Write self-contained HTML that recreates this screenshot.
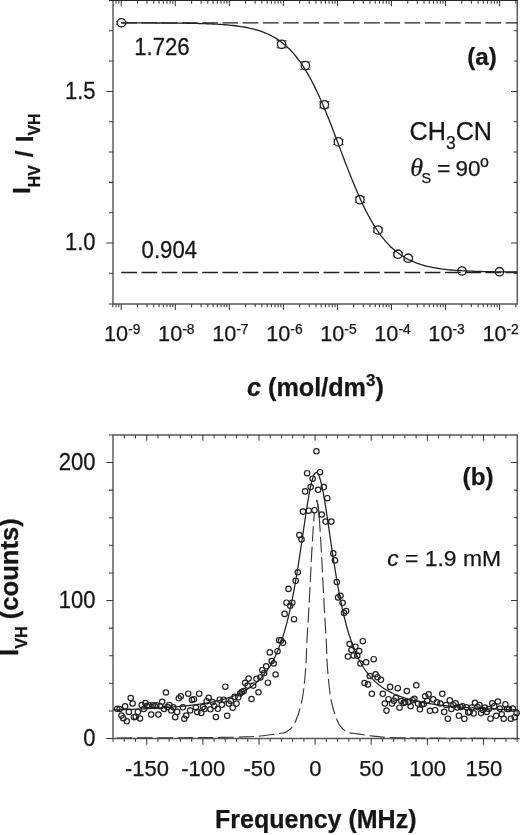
<!DOCTYPE html>
<html lang="en"><head><meta charset="utf-8"><title>Figure</title>
<style>
html,body{margin:0;padding:0;background:#fff;}
svg{display:block;}
#fig{filter:blur(0.4px);}
</style></head>
<body>
<svg width="520" height="835" viewBox="0 0 520 835">
<rect width="520" height="835" fill="#fff"/>
<g id="fig">
<g stroke="#5a5a5a" stroke-width="1.45" fill="none">
<path d="M113.0 0.00V304.60M113.0 303.9H518.00M517.3 304.60V0.00"/>
<path d="M109.0 0.45H518.0" stroke="#262626" stroke-width="1.3"/>
</g>
<g stroke="#3a3a3a" stroke-width="1.05" fill="none">
<path d="M113.0 303.9h-4M113.0 273.32h-4M517.3 273.32h-3.4M113.0 243.00h-6.7M517.3 243.00h-6.3M113.0 212.68h-4M517.3 212.68h-3.4M113.0 182.36h-4M517.3 182.36h-3.4M113.0 152.04h-4M517.3 152.04h-3.4M113.0 121.72h-4M517.3 121.72h-3.4M113.0 91.40h-6.7M517.3 91.40h-6.3M113.0 61.08h-4M517.3 61.08h-3.4M113.0 30.76h-4M517.3 30.76h-3.4"/>
<path d="M112.88 303.9v3.3M116.01 303.9v3.3M116.01 0.7v3M118.78 303.9v3.3M118.78 0.7v3M121.25 303.9v6M121.25 0.7v5.6M137.52 303.9v3.3M137.52 0.7v3M147.04 303.9v3.3M147.04 0.7v3M153.79 303.9v3.3M153.79 0.7v3M159.03 303.9v3.3M159.03 0.7v3M163.31 303.9v3.3M163.31 0.7v3M166.93 303.9v3.3M166.93 0.7v3M170.06 303.9v3.3M170.06 0.7v3M172.83 303.9v3.3M172.83 0.7v3M175.30 303.9v6M175.30 0.7v5.6M191.57 303.9v3.3M191.57 0.7v3M201.09 303.9v3.3M201.09 0.7v3M207.84 303.9v3.3M207.84 0.7v3M213.08 303.9v3.3M213.08 0.7v3M217.36 303.9v3.3M217.36 0.7v3M220.98 303.9v3.3M220.98 0.7v3M224.11 303.9v3.3M224.11 0.7v3M226.88 303.9v3.3M226.88 0.7v3M229.35 303.9v6M229.35 0.7v5.6M245.62 303.9v3.3M245.62 0.7v3M255.14 303.9v3.3M255.14 0.7v3M261.89 303.9v3.3M261.89 0.7v3M267.13 303.9v3.3M267.13 0.7v3M271.41 303.9v3.3M271.41 0.7v3M275.03 303.9v3.3M275.03 0.7v3M278.16 303.9v3.3M278.16 0.7v3M280.93 303.9v3.3M280.93 0.7v3M283.40 303.9v6M283.40 0.7v5.6M299.67 303.9v3.3M299.67 0.7v3M309.19 303.9v3.3M309.19 0.7v3M315.94 303.9v3.3M315.94 0.7v3M321.18 303.9v3.3M321.18 0.7v3M325.46 303.9v3.3M325.46 0.7v3M329.08 303.9v3.3M329.08 0.7v3M332.21 303.9v3.3M332.21 0.7v3M334.98 303.9v3.3M334.98 0.7v3M337.45 303.9v6M337.45 0.7v5.6M353.72 303.9v3.3M353.72 0.7v3M363.24 303.9v3.3M363.24 0.7v3M369.99 303.9v3.3M369.99 0.7v3M375.23 303.9v3.3M375.23 0.7v3M379.51 303.9v3.3M379.51 0.7v3M383.13 303.9v3.3M383.13 0.7v3M386.26 303.9v3.3M386.26 0.7v3M389.03 303.9v3.3M389.03 0.7v3M391.50 303.9v6M391.50 0.7v5.6M407.77 303.9v3.3M407.77 0.7v3M417.29 303.9v3.3M417.29 0.7v3M424.04 303.9v3.3M424.04 0.7v3M429.28 303.9v3.3M429.28 0.7v3M433.56 303.9v3.3M433.56 0.7v3M437.18 303.9v3.3M437.18 0.7v3M440.31 303.9v3.3M440.31 0.7v3M443.08 303.9v3.3M443.08 0.7v3M445.55 303.9v6M445.55 0.7v5.6M461.82 303.9v3.3M461.82 0.7v3M471.34 303.9v3.3M471.34 0.7v3M478.09 303.9v3.3M478.09 0.7v3M483.33 303.9v3.3M483.33 0.7v3M487.61 303.9v3.3M487.61 0.7v3M491.23 303.9v3.3M491.23 0.7v3M494.36 303.9v3.3M494.36 0.7v3M497.13 303.9v3.3M497.13 0.7v3M499.60 303.9v6M499.60 0.7v5.6M515.87 303.9v3.3M515.87 0.7v3"/>
</g>
<g stroke="#222" stroke-width="1.3" fill="none">
<path d="M116.30 21.40h10.2M116.30 24.20h10.2" stroke-width="0.95"/>
<circle cx="121.4" cy="22.8" r="4.2" fill="#fff"/>
<path d="M276.50 40.80h10.2M276.50 47.80h10.2" stroke-width="0.95"/>
<circle cx="281.6" cy="44.3" r="4.2" fill="#fff"/>
<path d="M300.30 61.90h10.2M300.30 69.30h10.2" stroke-width="0.95"/>
<circle cx="305.4" cy="65.6" r="4.2" fill="#fff"/>
<path d="M319.25 101.80h10.2M319.25 107.80h10.2" stroke-width="0.95"/>
<circle cx="324.35" cy="104.8" r="4.2" fill="#fff"/>
<path d="M333.30 139.30h10.2M333.30 144.50h10.2" stroke-width="0.95"/>
<circle cx="338.4" cy="141.9" r="4.2" fill="#fff"/>
<path d="M354.80 197.00h10.2M354.80 202.40h10.2" stroke-width="0.95"/>
<circle cx="359.9" cy="199.7" r="4.2" fill="#fff"/>
<path d="M372.90 227.90h10.2M372.90 232.10h10.2" stroke-width="0.95"/>
<circle cx="378" cy="230" r="4.2" fill="#fff"/>
<path d="M392.90 252.40h10.2M392.90 256.00h10.2" stroke-width="0.95"/>
<circle cx="398.0" cy="254.2" r="4.2" fill="#fff"/>
<path d="M403.10 256.40h10.2M403.10 260.00h10.2" stroke-width="0.95"/>
<circle cx="408.2" cy="258.2" r="4.2" fill="#fff"/>
<circle cx="462" cy="271.0" r="4.2" fill="#fff"/>
<circle cx="499.5" cy="271.7" r="4.2" fill="#fff"/>
</g>
<g stroke="#222" stroke-width="1.35" fill="none">
<path d="M121.25 22.88H517.3" stroke-dasharray="15.75 4.48"/>
<path d="M121.25 272.46H517.3" stroke-dasharray="15.75 4.48"/>
<path d="M121.2 22.90 L123.2 22.90 L125.2 22.90 L127.2 22.91 L129.2 22.91 L131.2 22.91 L133.2 22.91 L135.2 22.92 L137.2 22.92 L139.2 22.93 L141.2 22.93 L143.2 22.93 L145.2 22.94 L147.2 22.95 L149.2 22.95 L151.2 22.96 L153.2 22.97 L155.2 22.97 L157.2 22.98 L159.2 22.99 L161.2 23.00 L163.2 23.01 L165.2 23.02 L167.2 23.04 L169.2 23.05 L171.2 23.07 L173.2 23.08 L175.2 23.10 L177.2 23.12 L179.2 23.14 L181.2 23.17 L183.2 23.19 L185.2 23.22 L187.2 23.25 L189.2 23.29 L191.2 23.32 L193.2 23.36 L195.2 23.41 L197.2 23.45 L199.2 23.50 L201.2 23.56 L203.2 23.62 L205.2 23.69 L207.2 23.76 L209.2 23.84 L211.2 23.92 L213.2 24.01 L215.2 24.11 L217.2 24.22 L219.2 24.34 L221.2 24.47 L223.2 24.61 L225.2 24.77 L227.2 24.93 L229.2 25.11 L231.2 25.31 L233.2 25.52 L235.2 25.76 L237.2 26.01 L239.2 26.28 L241.2 26.58 L243.2 26.91 L245.2 27.26 L247.2 27.64 L249.2 28.06 L251.2 28.51 L253.2 28.99 L255.2 29.52 L257.2 30.10 L259.2 30.72 L261.2 31.39 L263.2 32.12 L265.2 32.91 L267.2 33.77 L269.2 34.69 L271.2 35.69 L273.2 36.76 L275.2 37.92 L277.2 39.17 L279.2 40.52 L281.2 41.97 L283.2 43.52 L285.2 45.20 L287.2 46.99 L289.2 48.91 L291.2 50.96 L293.2 53.16 L295.2 55.50 L297.2 57.99 L299.2 60.64 L301.2 63.45 L303.2 66.43 L305.2 69.58 L307.2 72.90 L309.2 76.39 L311.2 80.06 L313.2 83.90 L315.2 87.91 L317.2 92.09 L319.2 96.43 L321.2 100.92 L323.2 105.56 L325.2 110.33 L327.2 115.23 L329.2 120.24 L331.2 125.33 L333.2 130.51 L335.2 135.75 L337.2 141.03 L339.2 146.33 L341.2 151.64 L343.2 156.93 L345.2 162.19 L347.2 167.39 L349.2 172.53 L351.2 177.58 L353.2 182.52 L355.2 187.35 L357.2 192.05 L359.2 196.61 L361.2 201.02 L363.2 205.26 L365.2 209.35 L367.2 213.26 L369.2 217.01 L371.2 220.58 L373.2 223.97 L375.2 227.20 L377.2 230.25 L379.2 233.13 L381.2 235.85 L383.2 238.41 L385.2 240.82 L387.2 243.08 L389.2 245.19 L391.2 247.17 L393.2 249.02 L395.2 250.74 L397.2 252.35 L399.2 253.84 L401.2 255.24 L403.2 256.53 L405.2 257.73 L407.2 258.84 L409.2 259.87 L411.2 260.82 L413.2 261.71 L415.2 262.52 L417.2 263.28 L419.2 263.98 L421.2 264.62 L423.2 265.21 L425.2 265.76 L427.2 266.27 L429.2 266.74 L431.2 267.17 L433.2 267.56 L435.2 267.93 L437.2 268.26 L439.2 268.57 L441.2 268.86 L443.2 269.12 L445.2 269.36 L447.2 269.58 L449.2 269.79 L451.2 269.98 L453.2 270.15 L455.2 270.31 L457.2 270.45 L459.2 270.59 L461.2 270.71 L463.2 270.82 L465.2 270.93 L467.2 271.02 L469.2 271.11 L471.2 271.19 L473.2 271.27 L475.2 271.34 L477.2 271.40 L479.2 271.46 L481.2 271.51 L483.2 271.56 L485.2 271.60 L487.2 271.64 L489.2 271.68 L491.2 271.72 L493.2 271.75 L495.2 271.78 L497.2 271.80 L499.2 271.83 L501.2 271.85 L503.2 271.87 L505.2 271.89 L507.2 271.91 L509.2 271.93 L511.2 271.94 L513.2 271.95 L515.2 271.97 L517.2 271.98" stroke-width="1.3"/>
</g>
<g fill="#151515" stroke="#151515" stroke-width="0.25" font-family='"Liberation Sans", Arial, sans-serif' font-size="22">
<text transform="translate(95.5 98.8) scale(1 1.07)" text-anchor="end">1.5</text>
<text transform="translate(95.5 250.4) scale(1 1.07)" text-anchor="end">1.0</text>
<text transform="translate(122.25 340.7)" font-size="21.7" text-anchor="middle">10<tspan font-size="13.8" dy="-6.3">-9</tspan></text>
<text transform="translate(176.30 340.7)" font-size="21.7" text-anchor="middle">10<tspan font-size="13.8" dy="-6.3">-8</tspan></text>
<text transform="translate(230.35 340.7)" font-size="21.7" text-anchor="middle">10<tspan font-size="13.8" dy="-6.3">-7</tspan></text>
<text transform="translate(284.40 340.7)" font-size="21.7" text-anchor="middle">10<tspan font-size="13.8" dy="-6.3">-6</tspan></text>
<text transform="translate(338.45 340.7)" font-size="21.7" text-anchor="middle">10<tspan font-size="13.8" dy="-6.3">-5</tspan></text>
<text transform="translate(392.50 340.7)" font-size="21.7" text-anchor="middle">10<tspan font-size="13.8" dy="-6.3">-4</tspan></text>
<text transform="translate(446.55 340.7)" font-size="21.7" text-anchor="middle">10<tspan font-size="13.8" dy="-6.3">-3</tspan></text>
<text transform="translate(500.60 340.7)" font-size="21.7" text-anchor="middle">10<tspan font-size="13.8" dy="-6.3">-2</tspan></text>
<text transform="translate(134.2 54.8) scale(0.985 1.04)" font-size="22.5">1.726</text>
<text transform="translate(141.6 257.9) scale(0.985 1.04)" font-size="22.5">0.904</text>
<text x="467.3" y="65.2" font-size="24.2" font-weight="bold">(a)</text>
<text x="409.5" y="139.6" font-size="25.2">CH<tspan font-size="17.5" dy="9">3</tspan><tspan dy="-9">CN</tspan></text>
<text x="410.3" y="175.6" font-size="22.5"><tspan font-family="'Liberation Serif', serif" font-style="italic" font-size="26">θ</tspan><tspan x="421.6" font-size="14.5" dy="7.5">S</tspan><tspan x="437.3" dy="-7.5">=</tspan><tspan x="455.6">90</tspan><tspan x="480" font-size="16" dy="-9">o</tspan></text>
<text x="247" y="395.8" font-size="25.2" font-weight="bold"><tspan font-style="italic">c</tspan> (mol/dm<tspan font-size="17" dy="-10">3</tspan><tspan dy="10">)</tspan></text>
<text transform="translate(30 194) rotate(-90)" font-size="24.4" font-weight="bold">I<tspan font-size="15.8" dy="9.5">HV</tspan><tspan dy="-6.9" style="word-spacing:1.3px"> / I</tspan><tspan font-size="15.8" dy="6.9">VH</tspan></text>
</g>
<g stroke="#5a5a5a" stroke-width="1.45" fill="none">
<path d="M113.0 434.25V739.25M113.0 738.55H518.00M517.3 739.25V434.25M113.0 434.95H517.3"/>
</g>
<g stroke="#3a3a3a" stroke-width="1.05" fill="none">
<path d="M113.0 738.55h-6.7M113.0 434.95h-4M113.0 710.90h-4M517.3 710.90h-3.4M113.0 683.30h-4M517.3 683.30h-3.4M113.0 655.70h-4M517.3 655.70h-3.4M113.0 628.10h-4M517.3 628.10h-3.4M113.0 600.50h-6.7M517.3 600.50h-6.3M113.0 572.90h-4M517.3 572.90h-3.4M113.0 545.30h-4M517.3 545.30h-3.4M113.0 517.70h-4M517.3 517.70h-3.4M113.0 490.10h-4M517.3 490.10h-3.4M113.0 462.50h-6.7M517.3 462.50h-6.3"/>
<path d="M113.05 738.55v3.3M124.28 738.55v3.3M124.28 434.95v3.4M135.50 738.55v3.3M135.50 434.95v3.4M146.73 738.55v6.2M146.73 434.95v5.8M157.95 738.55v3.3M157.95 434.95v3.4M169.18 738.55v3.3M169.18 434.95v3.4M180.40 738.55v3.3M180.40 434.95v3.4M191.62 738.55v3.3M191.62 434.95v3.4M202.85 738.55v6.2M202.85 434.95v5.8M214.08 738.55v3.3M214.08 434.95v3.4M225.30 738.55v3.3M225.30 434.95v3.4M236.53 738.55v3.3M236.53 434.95v3.4M247.75 738.55v3.3M247.75 434.95v3.4M258.98 738.55v6.2M258.98 434.95v5.8M270.20 738.55v3.3M270.20 434.95v3.4M281.43 738.55v3.3M281.43 434.95v3.4M292.65 738.55v3.3M292.65 434.95v3.4M303.88 738.55v3.3M303.88 434.95v3.4M315.10 738.55v6.2M315.10 434.95v5.8M326.33 738.55v3.3M326.33 434.95v3.4M337.55 738.55v3.3M337.55 434.95v3.4M348.78 738.55v3.3M348.78 434.95v3.4M360.00 738.55v3.3M360.00 434.95v3.4M371.23 738.55v6.2M371.23 434.95v5.8M382.45 738.55v3.3M382.45 434.95v3.4M393.68 738.55v3.3M393.68 434.95v3.4M404.90 738.55v3.3M404.90 434.95v3.4M416.12 738.55v3.3M416.12 434.95v3.4M427.35 738.55v6.2M427.35 434.95v5.8M438.58 738.55v3.3M438.58 434.95v3.4M449.80 738.55v3.3M449.80 434.95v3.4M461.03 738.55v3.3M461.03 434.95v3.4M472.25 738.55v3.3M472.25 434.95v3.4M483.48 738.55v6.2M483.48 434.95v5.8M494.70 738.55v3.3M494.70 434.95v3.4M505.93 738.55v3.3M505.93 434.95v3.4M517.15 738.55v3.3"/>
</g>
<g stroke="#222" stroke-width="1.25" fill="none">
<path d="M113.05 709.96 L114.17 709.93 L115.30 709.90 L116.42 709.86 L117.54 709.83 L118.66 709.79 L119.79 709.76 L120.91 709.72 L122.03 709.68 L123.15 709.65 L124.28 709.61 L125.40 709.57 L126.52 709.53 L127.64 709.49 L128.77 709.45 L129.89 709.41 L131.01 709.37 L132.13 709.32 L133.26 709.28 L134.38 709.23 L135.50 709.19 L136.62 709.14 L137.75 709.09 L138.87 709.05 L139.99 709.00 L141.11 708.95 L142.24 708.90 L143.36 708.84 L144.48 708.79 L145.60 708.74 L146.73 708.68 L147.85 708.63 L148.97 708.57 L150.09 708.51 L151.22 708.45 L152.34 708.39 L153.46 708.33 L154.58 708.27 L155.71 708.20 L156.83 708.14 L157.95 708.07 L159.07 708.00 L160.20 707.93 L161.32 707.86 L162.44 707.79 L163.56 707.71 L164.69 707.64 L165.81 707.56 L166.93 707.48 L168.05 707.40 L169.18 707.31 L170.30 707.23 L171.42 707.14 L172.54 707.05 L173.67 706.96 L174.79 706.87 L175.91 706.77 L177.03 706.68 L178.16 706.58 L179.28 706.48 L180.40 706.37 L181.52 706.26 L182.65 706.15 L183.77 706.04 L184.89 705.93 L186.01 705.81 L187.14 705.69 L188.26 705.56 L189.38 705.44 L190.50 705.31 L191.62 705.17 L192.75 705.04 L193.87 704.89 L194.99 704.75 L196.12 704.60 L197.24 704.45 L198.36 704.29 L199.48 704.13 L200.61 703.97 L201.73 703.80 L202.85 703.62 L203.97 703.44 L205.10 703.26 L206.22 703.06 L207.34 702.87 L208.46 702.67 L209.59 702.46 L210.71 702.24 L211.83 702.02 L212.95 701.80 L214.08 701.56 L215.20 701.32 L216.32 701.07 L217.44 700.81 L218.56 700.55 L219.69 700.27 L220.81 699.99 L221.93 699.69 L223.06 699.39 L224.18 699.08 L225.30 698.75 L226.42 698.42 L227.55 698.07 L228.67 697.71 L229.79 697.34 L230.91 696.95 L232.04 696.56 L233.16 696.14 L234.28 695.71 L235.40 695.26 L236.53 694.80 L237.65 694.32 L238.77 693.82 L239.89 693.30 L241.02 692.76 L242.14 692.20 L243.26 691.61 L244.38 691.00 L245.51 690.36 L246.63 689.70 L247.75 689.01 L248.87 688.29 L250.00 687.54 L251.12 686.75 L252.24 685.93 L253.36 685.07 L254.49 684.17 L255.61 683.23 L256.73 682.24 L257.85 681.21 L258.98 680.12 L260.10 678.98 L261.22 677.79 L262.34 676.54 L263.47 675.22 L264.59 673.83 L265.71 672.37 L266.83 670.84 L267.96 669.22 L269.08 667.51 L270.20 665.71 L271.32 663.81 L272.45 661.80 L273.57 659.68 L274.69 657.44 L275.81 655.07 L276.94 652.57 L278.06 649.91 L279.18 647.10 L280.30 644.12 L281.43 640.97 L282.55 637.63 L283.67 634.08 L284.79 630.33 L285.92 626.35 L287.04 622.13 L288.16 617.67 L289.28 612.95 L290.41 607.95 L291.53 602.68 L292.65 597.13 L293.77 591.28 L294.90 585.14 L296.02 578.71 L297.14 572.01 L298.26 565.04 L299.39 557.83 L300.51 550.43 L301.63 542.86 L302.75 535.19 L303.88 527.50 L305.00 519.86 L306.12 512.39 L307.24 505.18 L308.37 498.38 L309.49 492.10 L310.61 486.48 L311.73 481.65 L312.86 477.73 L313.98 474.83 L315.10 473.02 L316.22 472.35 L317.35 472.85 L318.47 474.51 L319.59 477.26 L320.71 481.04 L321.84 485.75 L322.96 491.27 L324.08 497.46 L325.20 504.20 L326.33 511.36 L327.45 518.81 L328.57 526.42 L329.69 534.11 L330.81 541.79 L331.94 549.37 L333.06 556.81 L334.18 564.05 L335.31 571.05 L336.43 577.79 L337.55 584.26 L338.67 590.44 L339.80 596.33 L340.92 601.92 L342.04 607.23 L343.16 612.26 L344.29 617.02 L345.41 621.52 L346.53 625.77 L347.65 629.78 L348.78 633.57 L349.90 637.14 L351.02 640.51 L352.14 643.69 L353.27 646.70 L354.39 649.53 L355.51 652.20 L356.63 654.73 L357.75 657.12 L358.88 659.38 L360.00 661.51 L361.12 663.54 L362.25 665.45 L363.37 667.26 L364.49 668.98 L365.61 670.61 L366.74 672.16 L367.86 673.63 L368.98 675.03 L370.10 676.36 L371.23 677.62 L372.35 678.82 L373.47 679.97 L374.59 681.06 L375.72 682.10 L376.84 683.09 L377.96 684.04 L379.08 684.94 L380.21 685.81 L381.33 686.64 L382.45 687.43 L383.57 688.19 L384.70 688.91 L385.82 689.61 L386.94 690.27 L388.06 690.91 L389.19 691.53 L390.31 692.12 L391.43 692.68 L392.55 693.23 L393.68 693.75 L394.80 694.25 L395.92 694.73 L397.04 695.20 L398.17 695.65 L399.29 696.08 L400.41 696.50 L401.53 696.90 L402.66 697.29 L403.78 697.66 L404.90 698.02 L406.02 698.37 L407.15 698.71 L408.27 699.03 L409.39 699.35 L410.51 699.65 L411.64 699.95 L412.76 700.23 L413.88 700.51 L415.00 700.78 L416.12 701.03 L417.25 701.28 L418.37 701.53 L419.49 701.76 L420.62 701.99 L421.74 702.21 L422.86 702.43 L423.98 702.64 L425.11 702.84 L426.23 703.04 L427.35 703.23 L428.47 703.41 L429.60 703.60 L430.72 703.77 L431.84 703.94 L432.96 704.11 L434.09 704.27 L435.21 704.43 L436.33 704.58 L437.45 704.73 L438.58 704.87 L439.70 705.02 L440.82 705.15 L441.94 705.29 L443.07 705.42 L444.19 705.55 L445.31 705.67 L446.43 705.79 L447.56 705.91 L448.68 706.03 L449.80 706.14 L450.92 706.25 L452.05 706.36 L453.17 706.46 L454.29 706.56 L455.41 706.66 L456.54 706.76 L457.66 706.86 L458.78 706.95 L459.90 707.04 L461.03 707.13 L462.15 707.22 L463.27 707.30 L464.39 707.39 L465.52 707.47 L466.64 707.55 L467.76 707.62 L468.88 707.70 L470.00 707.78 L471.13 707.85 L472.25 707.92 L473.37 707.99 L474.50 708.06 L475.62 708.13 L476.74 708.19 L477.86 708.26 L478.99 708.32 L480.11 708.38 L481.23 708.44 L482.35 708.50 L483.48 708.56 L484.60 708.62 L485.72 708.67 L486.84 708.73 L487.97 708.78 L489.09 708.84 L490.21 708.89 L491.33 708.94 L492.46 708.99 L493.58 709.04 L494.70 709.09 L495.82 709.14 L496.95 709.18 L498.07 709.23 L499.19 709.27 L500.31 709.32 L501.44 709.36 L502.56 709.40 L503.68 709.44 L504.80 709.48 L505.93 709.53 L507.05 709.56 L508.17 709.60 L509.29 709.64 L510.42 709.68 L511.54 709.72 L512.66 709.75 L513.78 709.79 L514.90 709.82 L516.03 709.86 L517.15 709.89"/>
<path d="M316.60 499.90C316.75 500.42 317.23 501.82 317.50 503.00C317.77 504.18 317.97 505.33 318.20 507.00C318.43 508.67 318.65 510.17 318.90 513.00C319.15 515.83 319.44 520.17 319.70 524.00C319.96 527.83 320.13 530.83 320.45 536.00C320.77 541.17 321.25 548.57 321.60 555.00C321.95 561.43 322.18 567.17 322.55 574.60C322.93 582.03 323.44 592.03 323.85 599.60C324.26 607.17 324.58 612.85 325.00 620.00C325.42 627.15 326.00 635.50 326.35 642.50C326.70 649.50 326.74 655.75 327.10 662.00C327.46 668.25 328.02 674.83 328.50 680.00C328.98 685.17 329.38 688.83 330.00 693.00C330.62 697.17 331.33 701.33 332.20 705.00C333.07 708.67 334.08 711.83 335.20 715.00C336.32 718.17 337.62 721.67 338.90 724.00C340.18 726.33 341.35 727.58 342.90 729.00C344.45 730.42 345.75 731.68 348.20 732.50C350.65 733.32 353.87 733.35 357.60 733.90C361.33 734.45 365.43 735.21 370.60 735.80C375.77 736.39 381.77 737.09 388.60 737.45C395.43 737.81 404.43 737.83 411.60 737.95C418.77 738.07 424.10 738.08 431.60 738.15C439.10 738.22 447.43 738.30 456.60 738.35C465.77 738.40 476.10 738.42 486.60 738.45C497.10 738.48 514.10 738.53 519.60 738.55" stroke-dasharray="15.5 4.8" stroke-dashoffset="3.3" stroke-width="1.15" stroke="#3a3a3a"/>
<path d="M316.60 499.90C316.75 500.42 317.23 501.82 317.50 503.00C317.77 504.18 317.97 505.33 318.20 507.00C318.43 508.67 318.72 511.17 318.90 513.00C319.08 514.83 319.22 517.17 319.28 518.00" stroke-width="1.15" stroke="#3a3a3a"/>
<path d="M314.30 513.00C314.17 514.83 313.76 520.17 313.50 524.00C313.24 527.83 313.07 530.83 312.75 536.00C312.43 541.17 311.95 548.57 311.60 555.00C311.25 561.43 311.03 567.17 310.65 574.60C310.28 582.03 309.76 592.03 309.35 599.60C308.94 607.17 308.62 612.85 308.20 620.00C307.78 627.15 307.20 635.50 306.85 642.50C306.50 649.50 306.46 655.75 306.10 662.00C305.74 668.25 305.18 674.83 304.70 680.00C304.22 685.17 303.82 688.83 303.20 693.00C302.58 697.17 301.87 701.33 301.00 705.00C300.13 708.67 299.12 711.83 298.00 715.00C296.88 718.17 295.58 721.67 294.30 724.00C293.02 726.33 291.85 727.58 290.30 729.00C288.75 730.42 287.45 731.68 285.00 732.50C282.55 733.32 279.33 733.35 275.60 733.90C271.87 734.45 267.77 735.30 262.60 735.80C257.43 736.30 251.43 736.63 244.60 736.90C237.77 737.17 228.77 737.28 221.60 737.40C214.43 737.52 209.10 737.53 201.60 737.60C194.10 737.67 185.77 737.75 176.60 737.80C167.43 737.85 157.10 737.87 146.60 737.90C136.10 737.93 119.10 737.98 113.60 738.00" stroke-dasharray="15.5 4.8" stroke-dashoffset="7" stroke-width="1.15" stroke="#3a3a3a"/>
</g>
<g stroke="#222" stroke-width="1.2" fill="none">
<circle cx="117.2" cy="708.8" r="2.7"/>
<circle cx="119.6" cy="709.0" r="2.7"/>
<circle cx="121.5" cy="715.6" r="2.7"/>
<circle cx="123.2" cy="718.2" r="2.7"/>
<circle cx="125.1" cy="706.3" r="2.7"/>
<circle cx="126.8" cy="721.3" r="2.7"/>
<circle cx="128.9" cy="711.9" r="2.7"/>
<circle cx="130.7" cy="698.0" r="2.7"/>
<circle cx="132.6" cy="703.5" r="2.7"/>
<circle cx="134.0" cy="717.2" r="2.7"/>
<circle cx="135.8" cy="716.7" r="2.7"/>
<circle cx="137.9" cy="711.9" r="2.7"/>
<circle cx="140.0" cy="718.5" r="2.7"/>
<circle cx="141.7" cy="705.0" r="2.7"/>
<circle cx="143.7" cy="709.0" r="2.7"/>
<circle cx="145.4" cy="703.1" r="2.7"/>
<circle cx="147.0" cy="706.0" r="2.7"/>
<circle cx="148.9" cy="705.2" r="2.7"/>
<circle cx="151.2" cy="714.6" r="2.7"/>
<circle cx="152.8" cy="705.2" r="2.7"/>
<circle cx="154.7" cy="706.0" r="2.7"/>
<circle cx="156.4" cy="705.2" r="2.7"/>
<circle cx="158.4" cy="714.6" r="2.7"/>
<circle cx="160.3" cy="706.2" r="2.7"/>
<circle cx="162.2" cy="701.8" r="2.7"/>
<circle cx="164.1" cy="709.0" r="2.7"/>
<circle cx="165.9" cy="692.5" r="2.7"/>
<circle cx="167.5" cy="707.1" r="2.7"/>
<circle cx="169.4" cy="705.0" r="2.7"/>
<circle cx="171.3" cy="710.5" r="2.7"/>
<circle cx="173.3" cy="707.3" r="2.7"/>
<circle cx="175.2" cy="717.2" r="2.7"/>
<circle cx="177.1" cy="711.9" r="2.7"/>
<circle cx="178.8" cy="698.3" r="2.7"/>
<circle cx="180.8" cy="696.3" r="2.7"/>
<circle cx="182.9" cy="707.3" r="2.7"/>
<circle cx="184.3" cy="718.7" r="2.7"/>
<circle cx="186.2" cy="715.6" r="2.7"/>
<circle cx="188.2" cy="693.7" r="2.7"/>
<circle cx="190.1" cy="710.5" r="2.7"/>
<circle cx="192.0" cy="699.9" r="2.7"/>
<circle cx="193.9" cy="699.2" r="2.7"/>
<circle cx="195.9" cy="707.6" r="2.7"/>
<circle cx="197.3" cy="711.9" r="2.7"/>
<circle cx="199.2" cy="693.7" r="2.7"/>
<circle cx="201.2" cy="712.9" r="2.7"/>
<circle cx="202.9" cy="707.1" r="2.7"/>
<circle cx="204.5" cy="709.0" r="2.7"/>
<circle cx="206.7" cy="701.2" r="2.7"/>
<circle cx="208.7" cy="697.8" r="2.7"/>
<circle cx="210.4" cy="709.3" r="2.7"/>
<circle cx="212.5" cy="702.1" r="2.7"/>
<circle cx="214.2" cy="706.0" r="2.7"/>
<circle cx="215.9" cy="717.0" r="2.7"/>
<circle cx="217.8" cy="708.8" r="2.7"/>
<circle cx="219.7" cy="699.7" r="2.7"/>
<circle cx="221.9" cy="704.8" r="2.7"/>
<circle cx="223.6" cy="699.7" r="2.7"/>
<circle cx="225.3" cy="686.7" r="2.7"/>
<circle cx="227.2" cy="715.8" r="2.7"/>
<circle cx="228.8" cy="703.6" r="2.7"/>
<circle cx="230.8" cy="701.0" r="2.7"/>
<circle cx="232.7" cy="707.7" r="2.7"/>
<circle cx="234.6" cy="696.8" r="2.7"/>
<circle cx="236.5" cy="703.6" r="2.7"/>
<circle cx="238.3" cy="697.3" r="2.7"/>
<circle cx="240.2" cy="693.5" r="2.7"/>
<circle cx="241.8" cy="692.0" r="2.7"/>
<circle cx="243.8" cy="691.1" r="2.7"/>
<circle cx="245.2" cy="682.9" r="2.7"/>
<circle cx="247.6" cy="685.6" r="2.7"/>
<circle cx="248.6" cy="678.6" r="2.7"/>
<circle cx="251.5" cy="699.0" r="2.7"/>
<circle cx="253.2" cy="685.6" r="2.7"/>
<circle cx="256.5" cy="678.8" r="2.7"/>
<circle cx="258.5" cy="692.3" r="2.7"/>
<circle cx="260.4" cy="677.4" r="2.7"/>
<circle cx="262.3" cy="670.2" r="2.7"/>
<circle cx="264.2" cy="673.1" r="2.7"/>
<circle cx="266.2" cy="666.3" r="2.7"/>
<circle cx="267.9" cy="682.7" r="2.7"/>
<circle cx="269.8" cy="652.4" r="2.7"/>
<circle cx="271.7" cy="661.1" r="2.7"/>
<circle cx="273.7" cy="663.5" r="2.7"/>
<circle cx="275.6" cy="674.5" r="2.7"/>
<circle cx="277.5" cy="651.2" r="2.7"/>
<circle cx="279.1" cy="640.2" r="2.7"/>
<circle cx="281.1" cy="640.4" r="2.7"/>
<circle cx="283.0" cy="642.8" r="2.7"/>
<circle cx="284.6" cy="613.9" r="2.7"/>
<circle cx="286.5" cy="602.7" r="2.7"/>
<circle cx="288.5" cy="588.9" r="2.7"/>
<circle cx="290.2" cy="605.8" r="2.7"/>
<circle cx="292.3" cy="602.7" r="2.7"/>
<circle cx="294.0" cy="619.2" r="2.7"/>
<circle cx="295.7" cy="580.8" r="2.7"/>
<circle cx="297.8" cy="572.3" r="2.7"/>
<circle cx="299.4" cy="535.1" r="2.7"/>
<circle cx="301.5" cy="539.4" r="2.7"/>
<circle cx="303.0" cy="511.6" r="2.7"/>
<circle cx="305.1" cy="491.4" r="2.7"/>
<circle cx="307.1" cy="473.2" r="2.7"/>
<circle cx="308.8" cy="510.7" r="2.7"/>
<circle cx="310.7" cy="487.1" r="2.7"/>
<circle cx="312.6" cy="478.7" r="2.7"/>
<circle cx="314.5" cy="510.2" r="2.7"/>
<circle cx="316.4" cy="451.3" r="2.7"/>
<circle cx="318.1" cy="489.8" r="2.7"/>
<circle cx="320.0" cy="472.2" r="2.7"/>
<circle cx="321.7" cy="514.5" r="2.7"/>
<circle cx="323.8" cy="487.1" r="2.7"/>
<circle cx="325.6" cy="521.6" r="2.7"/>
<circle cx="327.3" cy="498.2" r="2.7"/>
<circle cx="331.3" cy="521.6" r="2.7"/>
<circle cx="333.3" cy="553.4" r="2.7"/>
<circle cx="335.0" cy="560.4" r="2.7"/>
<circle cx="336.8" cy="582.1" r="2.7"/>
<circle cx="338.1" cy="597.5" r="2.7"/>
<circle cx="340.5" cy="595.8" r="2.7"/>
<circle cx="342.6" cy="602.8" r="2.7"/>
<circle cx="344.0" cy="612.9" r="2.7"/>
<circle cx="346.2" cy="611.0" r="2.7"/>
<circle cx="347.9" cy="656.5" r="2.7"/>
<circle cx="349.6" cy="644.0" r="2.7"/>
<circle cx="351.5" cy="650.0" r="2.7"/>
<circle cx="353.5" cy="655.6" r="2.7"/>
<circle cx="355.4" cy="646.7" r="2.7"/>
<circle cx="357.3" cy="655.6" r="2.7"/>
<circle cx="359.2" cy="651.0" r="2.7"/>
<circle cx="360.4" cy="663.5" r="2.7"/>
<circle cx="362.8" cy="641.2" r="2.7"/>
<circle cx="364.5" cy="683.0" r="2.7"/>
<circle cx="366.2" cy="662.3" r="2.7"/>
<circle cx="367.9" cy="684.4" r="2.7"/>
<circle cx="369.8" cy="676.0" r="2.7"/>
<circle cx="371.9" cy="693.8" r="2.7"/>
<circle cx="373.7" cy="659.2" r="2.7"/>
<circle cx="375.6" cy="674.3" r="2.7"/>
<circle cx="377.5" cy="677.2" r="2.7"/>
<circle cx="380.9" cy="679.8" r="2.7"/>
<circle cx="382.8" cy="693.8" r="2.7"/>
<circle cx="384.8" cy="703.6" r="2.7"/>
<circle cx="386.5" cy="710.6" r="2.7"/>
<circle cx="388.5" cy="699.2" r="2.7"/>
<circle cx="390.1" cy="686.9" r="2.7"/>
<circle cx="392.0" cy="703.6" r="2.7"/>
<circle cx="393.9" cy="700.7" r="2.7"/>
<circle cx="395.9" cy="697.8" r="2.7"/>
<circle cx="397.8" cy="688.2" r="2.7"/>
<circle cx="399.5" cy="707.7" r="2.7"/>
<circle cx="401.3" cy="701.0" r="2.7"/>
<circle cx="403.6" cy="702.9" r="2.7"/>
<circle cx="405.2" cy="702.1" r="2.7"/>
<circle cx="406.9" cy="691.1" r="2.7"/>
<circle cx="408.7" cy="702.1" r="2.7"/>
<circle cx="410.6" cy="706.2" r="2.7"/>
<circle cx="412.7" cy="700.2" r="2.7"/>
<circle cx="414.4" cy="698.8" r="2.7"/>
<circle cx="416.3" cy="685.3" r="2.7"/>
<circle cx="418.0" cy="703.6" r="2.7"/>
<circle cx="419.9" cy="709.3" r="2.7"/>
<circle cx="421.8" cy="704.5" r="2.7"/>
<circle cx="423.8" cy="704.0" r="2.7"/>
<circle cx="425.2" cy="696.3" r="2.7"/>
<circle cx="427.1" cy="700.7" r="2.7"/>
<circle cx="428.6" cy="694.4" r="2.7"/>
<circle cx="430.0" cy="710.8" r="2.7"/>
<circle cx="433.2" cy="699.4" r="2.7"/>
<circle cx="435.1" cy="710.2" r="2.7"/>
<circle cx="437.0" cy="702.3" r="2.7"/>
<circle cx="440.4" cy="703.5" r="2.7"/>
<circle cx="442.3" cy="693.8" r="2.7"/>
<circle cx="444.2" cy="711.9" r="2.7"/>
<circle cx="446.2" cy="705.0" r="2.7"/>
<circle cx="447.9" cy="718.7" r="2.7"/>
<circle cx="449.8" cy="700.4" r="2.7"/>
<circle cx="451.4" cy="709.0" r="2.7"/>
<circle cx="453.4" cy="705.2" r="2.7"/>
<circle cx="455.6" cy="703.3" r="2.7"/>
<circle cx="457.2" cy="707.6" r="2.7"/>
<circle cx="458.9" cy="715.8" r="2.7"/>
<circle cx="460.6" cy="707.1" r="2.7"/>
<circle cx="462.5" cy="706.2" r="2.7"/>
<circle cx="464.4" cy="718.8" r="2.7"/>
<circle cx="466.3" cy="707.3" r="2.7"/>
<circle cx="468.3" cy="712.4" r="2.7"/>
<circle cx="469.7" cy="711.9" r="2.7"/>
<circle cx="471.9" cy="707.6" r="2.7"/>
<circle cx="473.6" cy="713.4" r="2.7"/>
<circle cx="475.0" cy="702.8" r="2.7"/>
<circle cx="477.5" cy="707.1" r="2.7"/>
<circle cx="479.4" cy="705.0" r="2.7"/>
<circle cx="481.1" cy="713.1" r="2.7"/>
<circle cx="483.0" cy="710.0" r="2.7"/>
<circle cx="484.9" cy="707.6" r="2.7"/>
<circle cx="486.8" cy="711.9" r="2.7"/>
<circle cx="488.8" cy="709.0" r="2.7"/>
<circle cx="490.5" cy="718.7" r="2.7"/>
<circle cx="492.3" cy="703.3" r="2.7"/>
<circle cx="494.2" cy="706.2" r="2.7"/>
<circle cx="496.2" cy="715.8" r="2.7"/>
<circle cx="497.9" cy="701.5" r="2.7"/>
<circle cx="499.8" cy="708.6" r="2.7"/>
<circle cx="501.7" cy="714.3" r="2.7"/>
<circle cx="503.7" cy="718.7" r="2.7"/>
<circle cx="505.4" cy="704.4" r="2.7"/>
<circle cx="507.0" cy="709.0" r="2.7"/>
<circle cx="508.9" cy="709.0" r="2.7"/>
<circle cx="510.9" cy="718.7" r="2.7"/>
<circle cx="512.8" cy="708.6" r="2.7"/>
<circle cx="514.7" cy="717.2" r="2.7"/>
<circle cx="516.6" cy="712.9" r="2.7"/>
</g>
<g fill="#151515" stroke="#151515" stroke-width="0.25" font-family='"Liberation Sans", Arial, sans-serif' font-size="22">
<text transform="translate(95.5 745.9) scale(1 1.07)" text-anchor="end">0</text>
<text transform="translate(95.5 607.9) scale(1 1.07)" text-anchor="end">100</text>
<text transform="translate(95.5 469.9) scale(1 1.07)" text-anchor="end">200</text>
<text transform="translate(147.03 775.5)" text-anchor="middle">-150</text>
<text transform="translate(203.15 775.5)" text-anchor="middle">-100</text>
<text transform="translate(259.28 775.5)" text-anchor="middle">-50</text>
<text transform="translate(315.40 775.5)" text-anchor="middle">0</text>
<text transform="translate(371.53 775.5)" text-anchor="middle">50</text>
<text transform="translate(427.65 775.5)" text-anchor="middle">100</text>
<text transform="translate(483.78 775.5)" text-anchor="middle">150</text>
<text x="462.6" y="485" font-size="24.2" font-weight="bold">(b)</text>
<text x="387.2" y="566.3" font-size="22.9"><tspan font-style="italic">c</tspan> = 1.9 mM</text>
<text x="315.8" y="827.6" font-size="25" font-weight="bold" text-anchor="middle">Frequency (MHz)</text>
<text transform="translate(18 656) rotate(-90)" font-size="25.6" font-weight="bold">I<tspan font-size="16.2" dy="9.3">VH</tspan><tspan dy="-9.3"> (counts)</tspan></text>
</g>
</g>
</svg>
</body></html>
